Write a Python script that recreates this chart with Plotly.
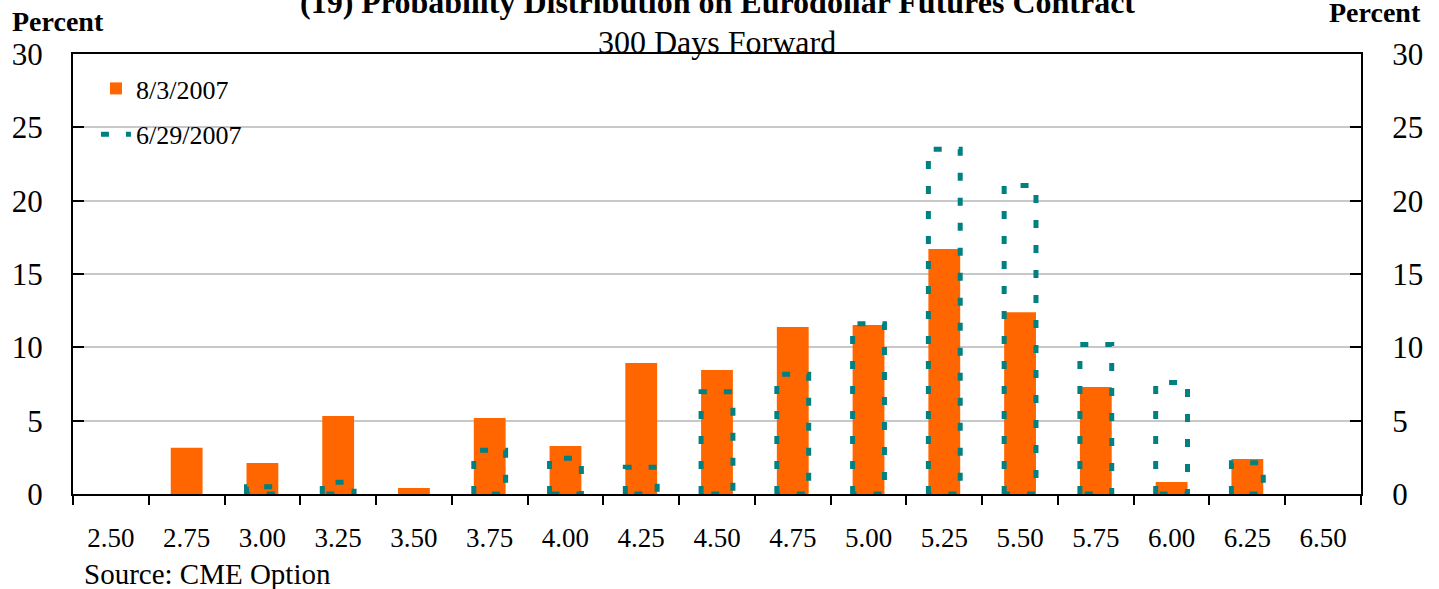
import plotly.graph_objects as go

# ---------------- data ----------------
categories = ["2.50", "2.75", "3.00", "3.25", "3.50", "3.75", "4.00", "4.25",
              "4.50", "4.75", "5.00", "5.25", "5.50", "5.75", "6.00", "6.25", "6.50"]
aug_3_2007 = [0.0, 3.16, 2.11, 5.32, 0.41, 5.18, 3.27, 8.93,
              8.45, 11.38, 11.52, 16.70, 12.40, 7.29, 0.82, 2.39, 0.0]
jun_29_2007 = [0.0, 0.0, 0.50, 0.80, 0.0, 2.98, 2.43, 1.82,
               6.97, 8.16, 11.60, 23.50, 21.04, 10.20, 7.61, 2.13, 0.0]
y_ticks = [0, 5, 10, 15, 20, 25, 30]

FONT = "Liberation Serif"
ORANGE = "#FF6600"
TEAL = "#008080"

W, H = 1439, 589
ML, MR, MT, MB = 70, 78, 54, 95
PH = H - MT - MB
PW = W - ML - MR

def py(pix):  # page pixel y -> paper y
    return (H - MB - pix) / PH

def px(pix):  # page pixel x -> paper x
    return (pix - ML) / PW

idx = list(range(len(categories)))
BAR_W = 0.42
HW = BAR_W / 2

fig = go.Figure()

fig.add_trace(go.Bar(
    x=idx, y=aug_3_2007, width=BAR_W, name="8/3/2007",
    marker=dict(color=ORANGE, line=dict(width=0)),
    legendgroup="a",
))

# dashed outline for 6/29/2007 built from the data
ox, oy = [], []
for i, v in zip(idx, jun_29_2007):
    if v <= 0:
        continue
    ox += [i - HW, i - HW, i + HW, i + HW, i - HW, None]
    oy += [0, v, v, 0, 0, None]

fig.add_trace(go.Scatter(
    x=ox, y=oy, mode="lines", name="6/29/2007",
    line=dict(color=TEAL, width=5, dash="8px,17px"),
    cliponaxis=False, legendgroup="b", connectgaps=False,
))

# dummy trace to activate right axis
fig.add_trace(go.Scatter(x=[0], y=[0], yaxis="y2", mode="markers",
                         marker=dict(opacity=0), showlegend=False, hoverinfo="skip"))

fig.update_layout(
    width=W, height=H,
    margin=dict(l=ML, r=MR, t=MT, b=MB),
    paper_bgcolor="white", plot_bgcolor="white",
    barmode="overlay",
    font=dict(family=FONT, color="black"),
    showlegend=True,
    legend=dict(x=px(93), y=py(65), xanchor="left", yanchor="top",
                font=dict(family=FONT, size=26, color="black"),
                bgcolor="rgba(0,0,0,0)", tracegroupgap=9,
                traceorder="grouped"),
    xaxis=dict(
        range=[-0.5, len(categories) - 0.5],
        tickmode="array", tickvals=idx, ticktext=categories,
        ticks="", showgrid=False, zeroline=False,
        showline=True, linecolor="black", linewidth=2, mirror=True,
        tickfont=dict(family=FONT, size=27, color="black"),
        ticklabelstandoff=19,
        minor=dict(tickmode="linear", tick0=-0.5, dtick=1, ticks="outside",
                   ticklen=9, tickwidth=2, tickcolor="black", showgrid=False),
    ),
    yaxis=dict(
        range=[0, 30], tickmode="array", tickvals=y_ticks,
        ticks="inside", ticklen=11, tickwidth=2, tickcolor="black",
        showline=True, linecolor="black", linewidth=2,
        showgrid=True, gridcolor="#c8c8c8", gridwidth=2, zeroline=False,
        tickfont=dict(family=FONT, size=31, color="black"),
        ticklabelstandoff=22,
    ),
    yaxis2=dict(
        range=[0, 30], tickmode="array", tickvals=y_ticks,
        overlaying="y", side="right", anchor="x",
        ticks="inside", ticklen=11, tickwidth=2, tickcolor="black",
        showline=True, linecolor="black", linewidth=2,
        showgrid=False, zeroline=False,
        tickfont=dict(family=FONT, size=31, color="black"),
        ticklabelstandoff=23,
    ),
)

annotations = [
    dict(text="<b>(19) Probability Distribution on Eurodollar Futures Contract</b>",
         x=px(716), y=py(2), size=32, xanchor="center"),
    dict(text="300 Days Forward", x=px(715), y=py(42), size=32, xanchor="center"),
    dict(text="<b>Percent</b>", x=px(7), y=py(22), size=28, xanchor="left"),
    dict(text="<b>Percent</b>", x=px(1327), y=py(12), size=28, xanchor="left"),
    dict(text="Source: CME Option", x=px(79), y=py(574), size=29, xanchor="left"),
]
for a in annotations:
    fig.add_annotation(
        text=a["text"], xref="paper", yref="paper", x=a["x"], y=a["y"],
        xanchor=a["xanchor"], yanchor="middle", showarrow=False,
        font=dict(family=FONT, size=a["size"], color="black"),
    )

fig.write_html("out.html", config={"displayModeBar": False},
               post_script="document.body.style.margin='0px';")
